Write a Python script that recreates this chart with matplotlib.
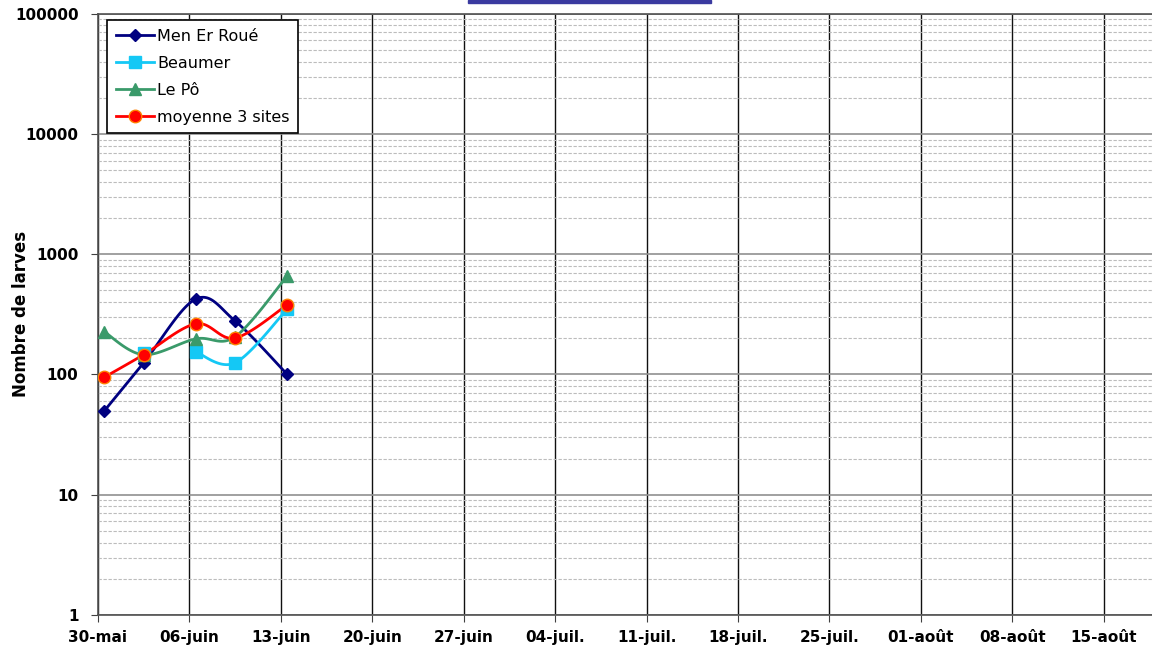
import numpy as np
import matplotlib.pyplot as plt
from matplotlib.patches import Rectangle

# days counted from 30-mai
tick_labels = ["30-mai", "06-juin", "13-juin", "20-juin", "27-juin", "04-juil.",
               "11-juil.", "18-juil.", "25-juil.", "01-août", "08-août", "15-août"]
sample_days = [0.5, 3.5, 7.5, 10.5, 14.5]

men_er_roue = [50, 125, 425, 279, 100]
beaumer_days = [3.5, 5.5, 7.5, 10.5, 14.5]
beaumer = [151, np.nan, 154, 125, 351]
le_po = [226, 146, 198, 206, 661]
moyenne = [95, 146, 264, 201, 380]


def smooth(xs, ys, n=30):
    # Excel-like smoothed line: cubic Bezier through points, in log space
    xs = np.asarray(xs, float)
    ly = np.log10(np.asarray(ys, float))
    px, py = [], []
    for i in range(len(xs) - 1):
        x0, y0 = xs[i], ly[i]
        x3, y3 = xs[i + 1], ly[i + 1]
        xm, ym = (xs[i - 1], ly[i - 1]) if i > 0 else (x0, y0)
        xp, yp = (xs[i + 2], ly[i + 2]) if i + 2 < len(xs) else (x3, y3)
        x1, y1 = x0 + (x3 - xm) / 6, y0 + (y3 - ym) / 6
        x2, y2 = x3 - (xp - x0) / 6, y3 - (yp - y0) / 6
        t = np.linspace(0, 1, n)
        bx = (1 - t) ** 3 * x0 + 3 * (1 - t) ** 2 * t * x1 + 3 * (1 - t) * t ** 2 * x2 + t ** 3 * x3
        by = (1 - t) ** 3 * y0 + 3 * (1 - t) ** 2 * t * y1 + 3 * (1 - t) * t ** 2 * y2 + t ** 3 * y3
        px.extend(bx)
        py.extend(by)
    return np.array(px), 10 ** np.array(py)


def plot_series(ax, xs, ys, color, marker, ms, label, mec=None):
    xs = np.asarray(xs, float)
    ys = np.asarray(ys, float)
    ok = ~np.isnan(ys)
    # split into contiguous runs
    runs, cur = [], []
    for x, y, good in zip(xs, ys, ok):
        if good:
            cur.append((x, y))
        elif cur:
            runs.append(cur)
            cur = []
    if cur:
        runs.append(cur)
    for r in runs:
        if len(r) > 1:
            sx, sy = smooth([p[0] for p in r], [p[1] for p in r])
            ax.plot(sx, sy, color=color, lw=2, zorder=3)
    ax.plot(xs[ok], ys[ok], ls="none", marker=marker, ms=ms, color=color,
            mec=mec or color, zorder=4)
    ax.plot([], [], color=color, lw=2, marker=marker, ms=ms, mec=mec or color, label=label)


fig = plt.figure(figsize=(11.52, 6.57), dpi=100)
ax = fig.add_axes([0.085, 0.064, 0.915, 0.915])

plot_series(ax, sample_days, men_er_roue, "#000080", "D", 6, "Men Er Roué")
plot_series(ax, beaumer_days, beaumer, "#14C8F5", "s", 8, "Beaumer")
plot_series(ax, sample_days, le_po, "#3A9A6A", "^", 9, "Le Pô")
plot_series(ax, sample_days, moyenne, "#FF0000", "o", 9, "moyenne 3 sites", mec="#FF8000")

ax.set_yscale("log")
ax.set_ylim(1, 100000)
ax.set_xlim(0, 80.7)
ticks = [7 * i for i in range(len(tick_labels))]
ax.set_xticks(ticks)
ax.set_xticklabels(tick_labels, fontsize=11, fontweight="bold")
ax.set_yticks([1, 10, 100, 1000, 10000, 100000])
ax.set_yticklabels(["1", "10", "100", "1000", "10000", "100000"], fontsize=11, fontweight="bold")
ax.tick_params(axis="y", which="minor", length=0)
ax.tick_params(axis="both", which="major", length=5, color="#404040", pad=9)
ax.tick_params(axis="x", pad=6)

ax.grid(True, axis="x", which="major", color="#101010", lw=1.0)
ax.grid(True, axis="y", which="major", color="#909090", lw=1.2)
ax.grid(True, axis="y", which="minor", color="#bcbcbc", lw=0.8, ls=(0, (3, 1.5)))
ax.set_axisbelow(True)
ax.spines["right"].set_visible(False)
for s in ["left", "top", "bottom"]:
    ax.spines[s].set_color("#505050")
    ax.spines[s].set_linewidth(1.2)

ax.set_ylabel("Nombre de larves", fontsize=12, fontweight="bold")
ax.yaxis.set_label_coords(-0.064, 0.5)

leg = ax.legend(loc="upper left", bbox_to_anchor=(0.0085, 0.99), borderaxespad=0,
                fontsize=11.5, frameon=True, fancybox=False, edgecolor="black",
                framealpha=1, handlelength=2.4, handletextpad=0.2, borderpad=0.55,
                labelspacing=0.75)
leg.get_frame().set_linewidth(1.2)

# clipped title box at top
fig.patches.append(Rectangle((468 / 1152, 1 - 3 / 657), 243 / 1152, 3 / 657,
                             transform=fig.transFigure, color="#3A3AA0"))

fig.savefig("out.png", dpi=100)
